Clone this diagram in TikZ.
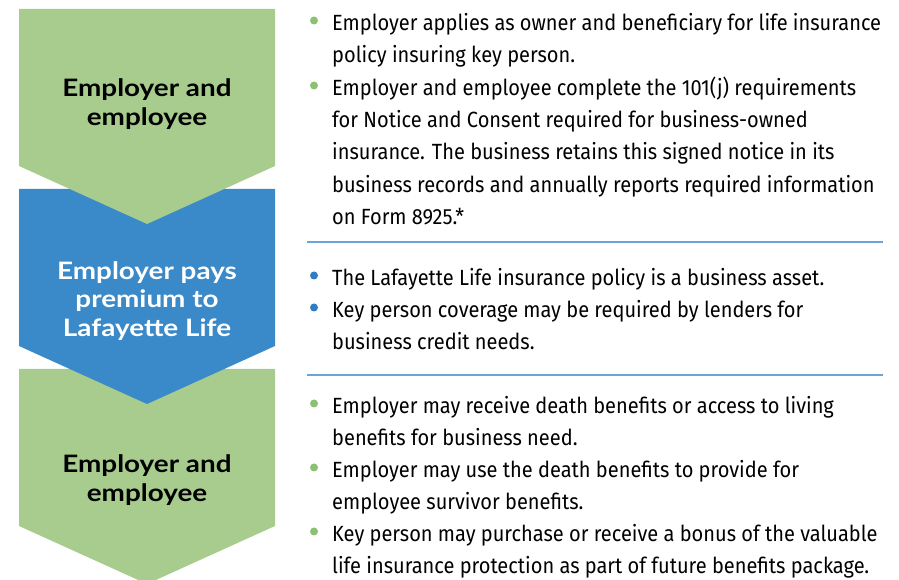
\documentclass[tikz,border=0pt]{standalone}
\usepackage{fontspec}
\setmainfont{Lato}
\newfontfamily\stagefont[FakeStretch=1.16]{Lato}
\newfontfamily\bodyfont[FakeStretch=0.91]{Fira Sans}

\definecolor{stagegreen}{HTML}{A7CC8E}
\definecolor{stageblue}{HTML}{3A89C9}
\definecolor{dotgreen}{HTML}{8CC173}
\definecolor{dotblue}{HTML}{2E7EC3}
\definecolor{rulecol}{HTML}{6AA4D8}

\tikzset{
  stagetext/.style={align=center, font=\stagefont\bfseries\fontsize{24}{28.5}\selectfont},
  itemtext/.style={anchor=north west, inner sep=0pt, align=left, font=\bodyfont\fontsize{22}{32.3}\selectfont},
  rulek/.style={draw=rulecol, line width=2.5pt}
}

% first line of an item: 20pt high, so its baseline sits 20pt below the top
\newcommand{\itemstrut}{\rule{0pt}{20pt}}

\newcommand{\stageK}[2]{
\begin{scope}[shift={(#1)}]
\fill [#2] (0pt,0pt) -- (256pt,0pt) -- (256pt,-157pt) -- (128pt,-215pt) -- (0pt,-157pt) -- cycle;
\end{scope}
}

\newcommand{\itemK}[4]{
\begin{scope}[shift={(#1)}]
\fill [#2] (0pt,9.5pt) circle (4pt);
\node [itemtext] (#3) at (18pt,20pt) {\itemstrut#4};
\end{scope}
}

\begin{document}
\begin{tikzpicture}
\useasboundingbox (0pt,0pt) rectangle (899pt,580pt);

\path (19pt,571pt) coordinate (S1);
\path (19pt,391pt) coordinate (S2);
\path (19pt,211pt) coordinate (S3);

% last stage first, so each tip lies over the next box
\stageK{S3}{stagegreen};
\stageK{S2}{stageblue};
\stageK{S1}{stagegreen};

\node [stagetext] (L1) at (147pt,476pt) {Employer and\\employee};
\node [stagetext, text=white] (L2) at (147pt,279pt) {Employer pays\\premium to\\Lafayette Life};
\node [stagetext] (L3) at (147pt,100pt) {Employer and\\employee};

\path (314pt,550pt) coordinate (B1);
\path (314pt,485pt) coordinate (B2);
\path (314pt,295pt) coordinate (B3);
\path (314pt,263pt) coordinate (B4);
\path (314pt,167pt) coordinate (B5);
\path (314pt,103pt) coordinate (B6);
\path (314pt,39pt) coordinate (B7);

\itemK{B1}{dotgreen}{T1}{Employer applies as owner and beneficiary for life insurance\\policy insuring key person.};
\itemK{B2}{dotgreen}{T2}{Employer and employee complete the 101(j) requirements\\for Notice and Consent required for business-owned\\insurance. The business retains this signed notice in its\\business records and annually reports required information\\on Form 8925.*};
\itemK{B3}{dotblue}{T3}{The Lafayette Life insurance policy is a business asset.};
\itemK{B4}{dotblue}{T4}{Key person coverage may be required by lenders for\\business credit needs.};
\itemK{B5}{dotgreen}{T5}{Employer may receive death benefits or access to living\\benefits for business need.};
\itemK{B6}{dotgreen}{T6}{Employer may use the death benefits to provide for\\employee survivor benefits.};
\itemK{B7}{dotgreen}{T7}{Key person may purchase or receive a bonus of the valuable\\life insurance protection as part of future benefits package.};

\path (307pt,338pt) coordinate (R1) (883pt,338pt) coordinate (R2);
\path (307pt,205pt) coordinate (R3) (883pt,205pt) coordinate (R4);
\draw [rulek] (R1) -- (R2);
\draw [rulek] (R3) -- (R4);

\end{tikzpicture}
\end{document}
